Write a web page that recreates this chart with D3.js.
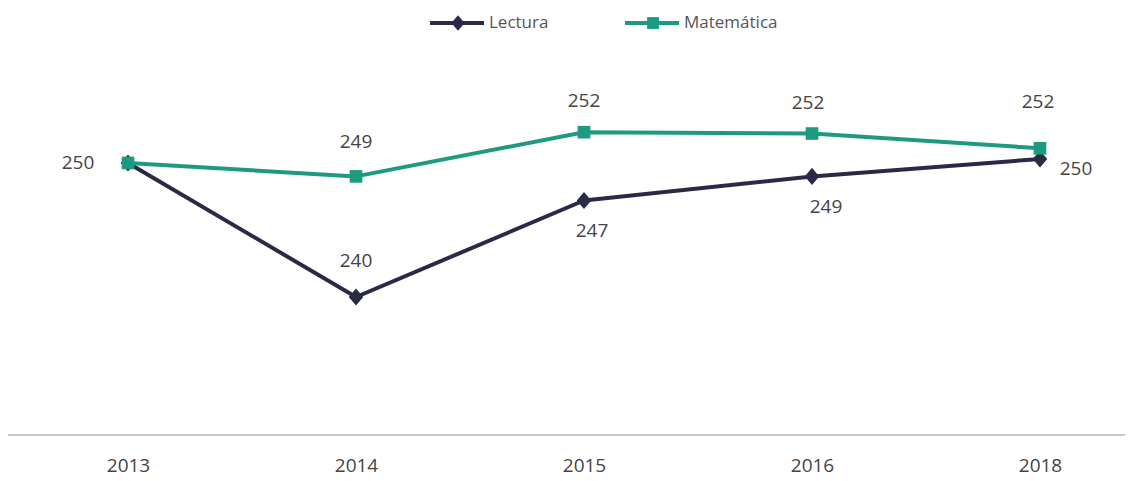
<!DOCTYPE html>
<html><head><meta charset="utf-8">
<script src="https://cdn.jsdelivr.net/npm/d3@7"></script>
<style>body{margin:0;background:#fff;}svg{display:block;font-family:"Open Sans","Noto Sans",sans-serif;}</style>
</head><body><svg id="c" width="1135" height="481"></svg>
<script>
const years = ["2013","2014","2015","2016","2018"];
const lectura = [250, 240, 247.2, 249.0, 250.3];
const matematica = [250, 249.0, 252.3, 252.2, 251.1];
const lecturaLabels = ["", "240", "247", "249", "250"];
const matematicaLabels = ["250", "249", "252", "252", "252"];
const seriesNames = ["Lectura", "Matemática"];

const navy = "#2a2946", teal = "#1e9a80", textC = "#444";
const svg = d3.select("#c");
const x = d3.scalePoint().domain(years).range([128, 1040]);
const y = d3.scaleLinear().domain([240, 250]).range([297, 163]);

const diamond = {draw(ctx, size) {
  const h = Math.sqrt(size) * 0.62, w = h * 0.85;
  ctx.moveTo(0, -h); ctx.lineTo(w, 0); ctx.lineTo(0, h); ctx.lineTo(-w, 0); ctx.closePath();
}};

svg.append("line").attr("x1", 8).attr("x2", 1125).attr("y1", 435).attr("y2", 435)
  .attr("stroke", "#c8c8c8").attr("stroke-width", 2);
const ax = svg.append("g").attr("transform", "translate(0,435)")
  .call(d3.axisBottom(x).tickSize(0).tickPadding(24));
ax.select(".domain").remove();
ax.selectAll("text").attr("font-size", 19).attr("fill", textC).attr("font-family", "Open Sans, sans-serif");

const line = d3.line().x((d, i) => x(years[i])).y(d => y(d));
function drawSeries(vals, color, shape, size) {
  svg.append("path").datum(vals).attr("d", line).attr("fill", "none")
    .attr("stroke", color).attr("stroke-width", 4).attr("stroke-linejoin", "round");
  svg.selectAll(null).data(vals).enter().append("path")
    .attr("transform", (d, i) => `translate(${x(years[i])},${y(d)})`)
    .attr("d", d3.symbol().type(shape).size(size))
    .attr("fill", color);
}
drawSeries(lectura, navy, diamond, 190);
drawSeries(matematica, teal, d3.symbolSquare, 160);

const matOff = [[-50, 1], [0, -33], [0, -30], [-4, -30], [-2, -45]];
svg.selectAll(null).data(matematica).enter().append("text")
  .attr("x", (d, i) => x(years[i]) + matOff[i][0])
  .attr("y", (d, i) => y(d) + matOff[i][1])
  .attr("text-anchor", "middle").attr("dominant-baseline", "middle")
  .attr("font-size", 19).attr("fill", textC).text((d, i) => matematicaLabels[i]);
const lecOff = [[0, 0], [0, -35], [8, 31], [14, 32], [36, 11]];
svg.selectAll(null).data(lectura).enter().append("text")
  .attr("x", (d, i) => x(years[i]) + lecOff[i][0])
  .attr("y", (d, i) => y(d) + lecOff[i][1])
  .attr("text-anchor", "middle").attr("dominant-baseline", "middle")
  .attr("font-size", 19).attr("fill", textC).text((d, i) => lecturaLabels[i]);

const leg = [{n: seriesNames[0], c: navy, s: diamond, sz: 160, x: 430},
             {n: seriesNames[1], c: teal, s: d3.symbolSquare, sz: 140, x: 625}];
leg.forEach(l => {
  const g = svg.append("g").attr("transform", `translate(${l.x},23)`);
  g.append("line").attr("x1", 0).attr("x2", 54).attr("stroke", l.c).attr("stroke-width", 4);
  g.append("path").attr("transform", "translate(28,0)")
    .attr("d", d3.symbol().type(l.s).size(l.sz)).attr("fill", l.c);
  g.append("text").attr("x", 59).attr("y", 0).attr("dominant-baseline", "middle")
    .attr("font-size", 17).attr("fill", "#555").text(l.n);
});
</script></body></html>
